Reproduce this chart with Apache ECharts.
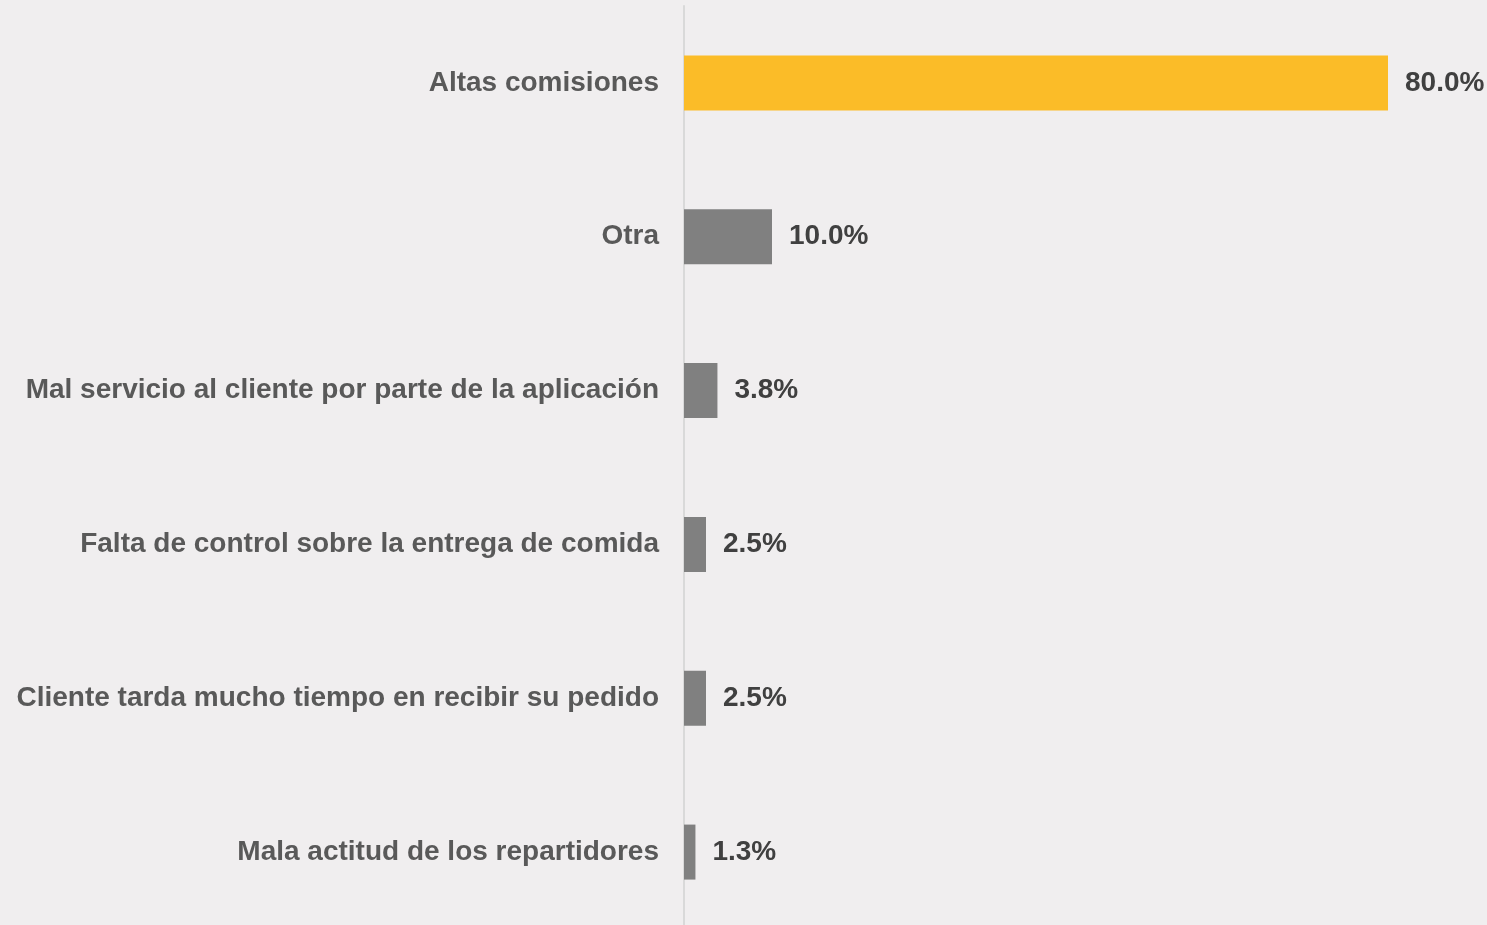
<!DOCTYPE html>
<html>
<head>
<meta charset="utf-8">
<script src="https://cdn.jsdelivr.net/npm/echarts@6/dist/echarts.min.js"></script>
<style>
  html, body { margin: 0; padding: 0; background: #f0eeef; overflow: hidden; }
  #chart-container { width: 1487px; height: 930px; }
</style>
</head>
<body>
<div id="chart-container"></div>
<script>
'use strict';

// categories listed top to bottom
const categories = [
    'Altas comisiones',
    'Otra',
    'Mal servicio al cliente por parte de la aplicación',
    'Falta de control sobre la entrega de comida',
    'Cliente tarda mucho tiempo en recibir su pedido',
    'Mala actitud de los repartidores'
];
const shares = [80.0, 10.0, 3.8, 2.5, 2.5, 1.3];
const highlightIndex = 0;

const myChart = echarts.init(
    document.getElementById('chart-container'),
    null,
    { renderer: 'canvas' }
);

const fontFamily = '"Liberation Sans", Arial, sans-serif';

const option = {
    backgroundColor: '#f0eeef',
    animation: false,
    grid: {
        left: 684,
        right: 11,
        top: 6,
        bottom: 1
    },
    xAxis: {
        type: 'value',
        min: 0,
        max: 90,
        show: false
    },
    yAxis: {
        type: 'category',
        inverse: true,
        data: categories,
        axisLine: {
            show: true,
            lineStyle: { color: '#d9d9d9', width: 2 }
        },
        axisTick: { show: false },
        axisLabel: {
            margin: 25,
            color: '#595959',
            fontSize: 28,
            fontWeight: 'bold',
            fontFamily: fontFamily,
            padding: [4, 0, 0, 0]
        }
    },
    series: [{
        type: 'bar',
        barWidth: 55,
        data: shares.map((v, i) => ({
            value: v,
            itemStyle: { color: i === highlightIndex ? '#fbbc28' : '#808080' }
        })),
        label: {
            show: true,
            position: 'right',
            distance: 17,
            color: '#404040',
            fontSize: 28,
            fontWeight: 'bold',
            fontFamily: fontFamily,
            padding: [4, 0, 0, 0],
            formatter: (params) => params.value.toFixed(1) + '%'
        }
    }]
};

myChart.setOption(option);
window.addEventListener('resize', myChart.resize);
</script>
</body>
</html>
